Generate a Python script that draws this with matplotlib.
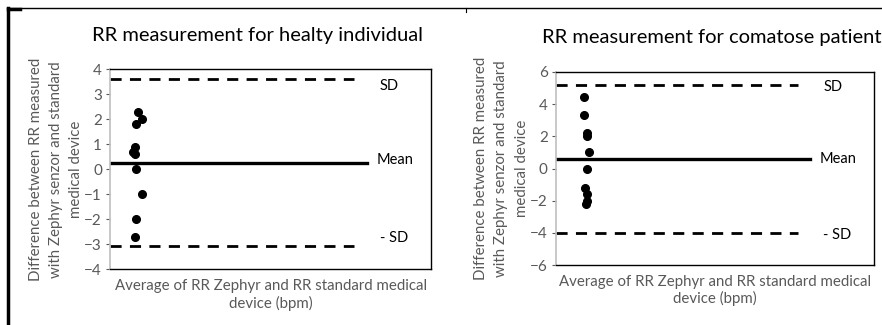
import matplotlib
matplotlib.use("Agg")
import matplotlib.pyplot as plt
from matplotlib.lines import Line2D

plt.rcParams['font.family'] = ['Lato', 'DejaVu Sans']

# healthy individual
healthy_x = [8.7, 9.8, 8.0, 7.7, 7.0, 7.7, 8.0, 9.8, 8.0, 7.7]
healthy_y = [2.3, 2.0, 1.8, 0.9, 0.7, 0.6, 0.0, -1.0, -2.0, -2.7]
healthy_mean = 0.26
healthy_sd_hi = 3.59
healthy_sd_lo = -3.07

# comatose patient
coma_x = [8.7, 8.9, 9.9, 9.9, 10.3, 9.9, 9.1, 9.9, 9.9, 9.4]
coma_y = [4.42, 3.29, 2.2, 2.0, 1.0, 0.0, -1.2, -1.6, -2.0, -2.2]
coma_mean = 0.6
coma_sd_hi = 5.18
coma_sd_lo = -4.0

titles = ["RR measurement for healty individual", "RR measurement for comatose patient"]
ylabel = "Difference between RR measured\nwith Zephyr senzor and standard\nmedical device"
xlabel = "Average of RR Zephyr and RR standard medical\ndevice (bpm)"

gray = "#595959"

fig = plt.figure(figsize=(8.82, 3.25), dpi=100)
ax1 = fig.add_axes([0.125, 0.171, 0.3636, 0.616])
ax2 = fig.add_axes([0.6304, 0.184, 0.3605, 0.595])


def draw_panel(ax, xs, ys, mean, hi, lo, ylim, yticks, title, text_y, title_x, title_pad, ypad):
    ax.plot(xs, ys, 'o', color='black', markersize=5.5)
    ax.axhline(mean, xmin=0, xmax=0.80, color='black', lw=2.4)
    ax.axhline(hi, xmin=0, xmax=0.76, color='black', lw=2.0, dashes=(4, 3))
    ax.axhline(lo, xmin=0, xmax=0.76, color='black', lw=2.0, dashes=(4, 3))
    ax.set_xlim(0, 100)
    ax.set_ylim(*ylim)
    ax.set_yticks(yticks)
    ax.set_xticks([])
    ax.tick_params(axis='y', colors=gray, labelsize=11, length=3, width=0.8, pad=3)
    for s in ['top', 'right', 'bottom']:
        ax.spines[s].set_color('black')
        ax.spines[s].set_linewidth(1.0)
    ax.spines['left'].set_color('#bfbfbf')
    ax.spines['left'].set_linewidth(1.2)
    ax.set_ylabel(ylabel, color=gray, fontsize=10.8, linespacing=1.55, labelpad=ypad)
    ax.set_xlabel(xlabel, color=gray, fontsize=10.8, linespacing=1.2, labelpad=7)
    ax.text(84, text_y[0], "SD", fontsize=10.5, va='center')
    ax.text(83, text_y[1], "Mean", fontsize=10.5, va='center')
    ax.text(84, text_y[2], "- SD", fontsize=10.5, va='center')
    ax.set_title(title, fontsize=14.5, x=title_x, pad=title_pad)


draw_panel(ax1, healthy_x, healthy_y, healthy_mean, healthy_sd_hi, healthy_sd_lo,
           (-4, 4), range(-4, 5, 1), titles[0], (3.32, 0.39, -2.76), 0.46, 20, 1)
draw_panel(ax2, coma_x, coma_y, coma_mean, coma_sd_hi, coma_sd_lo,
           (-6, 6), range(-6, 7, 2), titles[1], (5.04, 0.56, -4.1), 0.49, 21, 1)

# outer frame lines
fig.add_artist(Line2D([0.0095, 1.0], [0.975, 0.975], color='black', lw=1.0))
fig.add_artist(Line2D([0.0095, 0.023], [0.972, 0.972], color='black', lw=2.5))
fig.add_artist(Line2D([0.0095, 0.0095], [0.0, 0.975], color='black', lw=2.5))
fig.add_artist(Line2D([0.528, 0.528], [0.962, 0.975], color='black', lw=0.8))

fig.savefig("out.png", dpi=100)
